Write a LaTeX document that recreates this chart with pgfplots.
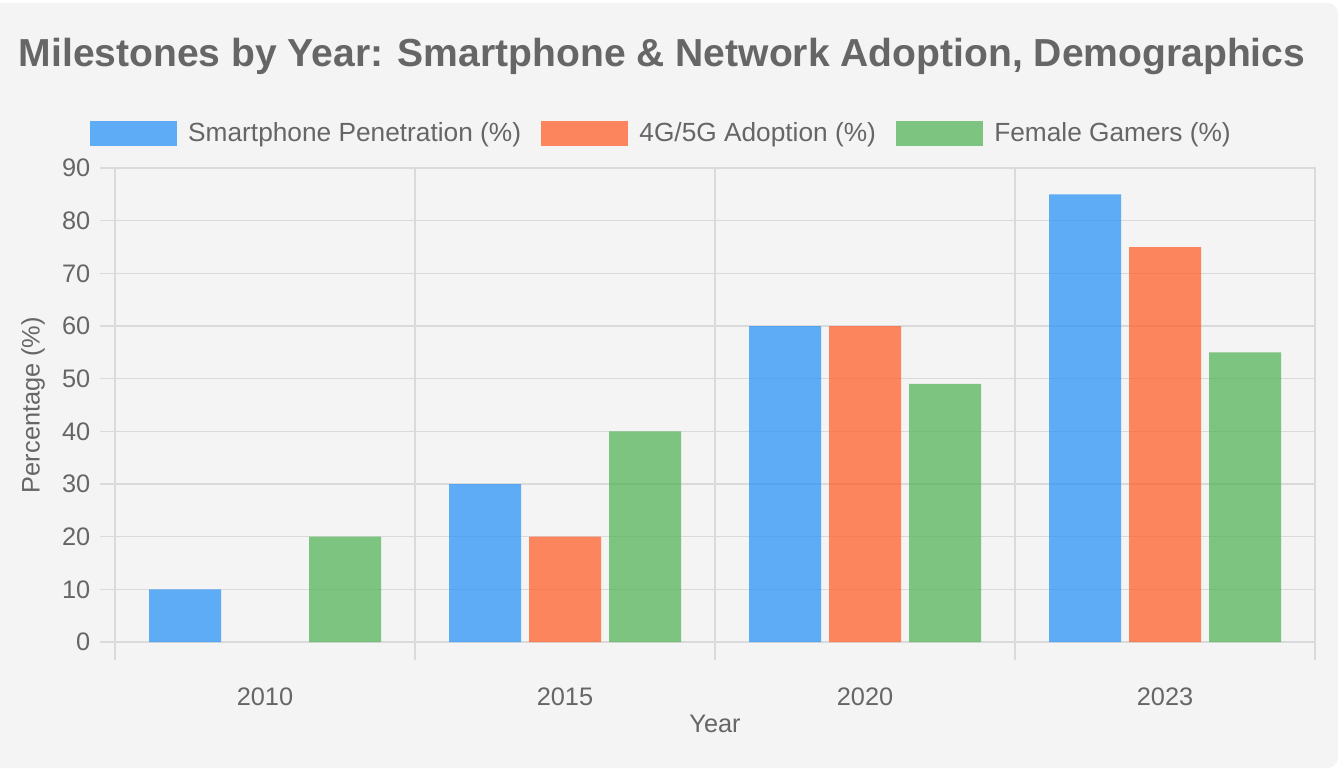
\documentclass[border=0pt]{standalone}
\usepackage{pgfplots}
\pgfplotsset{compat=1.18}
\usepackage{fontspec}
\setmainfont{Liberation Sans}
\definecolor{bgc}{RGB}{244,244,244}
\definecolor{textgray}{RGB}{102,102,102}
\definecolor{gridc}{RGB}{218,218,218}
\definecolor{sblue}{RGB}{44,148,248}
\definecolor{sorange}{RGB}{255,96,44}
\definecolor{sgreen}{RGB}{85,180,89}
\begin{document}
\begin{tikzpicture}
\useasboundingbox (0,0) rectangle (1008pt,576pt);
\fill[white] (0,0) rectangle (1008pt,576pt);
\fill[bgc, rounded corners=8pt] (-20pt,0pt) rectangle (1003.5pt,573.75pt);
\node[anchor=base, text=textgray, font=\fontsize{29.3}{34}\selectfont\bfseries] at (496.5pt,525.75pt) {Milestones by Year: Smartphone \& Network Adoption, Demographics};
\begin{axis}[
  at={(86.25pt,94.5pt)}, anchor=south west,
  width=900pt, height=355.5pt, scale only axis,
  xmin=-0.5, xmax=3.5, ymin=0, ymax=90,
  ybar=6pt, bar width=54pt,
  xtick={0,1,2,3}, xticklabels={2010,2015,2020,2023},
  major x tick style={draw=none},
  minor xtick={-0.5,0.5,1.5,2.5,3.5},
  xminorgrids, ymajorgrids,
  ytick={0,10,...,90},
  tick align=outside,
  tick pos=left,
  minor tick length=13.5pt,
  major tick length=11.25pt,
  axis line style={draw=gridc, line width=0.9pt},
  grid style={gridc, line width=0.9pt},
  minor grid style={gridc, line width=0.9pt},
  every tick/.style={gridc, line width=0.9pt},
  /pgf/number format/assume math mode=true,
  ticklabel style={font=\fontsize{19}{23}\selectfont, text=textgray},
  xticklabel style={anchor=base, yshift=-36pt},
  yticklabel style={anchor=east, xshift=-3.75pt},
  xlabel={Year},
  ylabel={Percentage (\%)},
  every axis x label/.style={at={(axis description cs:0.5,-0.19)}, anchor=base,
    font=\fontsize{19}{23}\selectfont, text=textgray},
  every axis y label/.style={at={(axis description cs:-0.0683,0.5)}, anchor=center, rotate=90,
    font=\fontsize{19}{23}\selectfont, text=textgray},
  legend columns=3,
  legend style={at={(axis description cs:0.4554,1.0738)}, anchor=center, draw=none, fill=none,
    font=\fontsize{19.7}{23}\selectfont, text=textgray,
    /tikz/every odd column/.append style={column sep=6.75pt},
    /tikz/every even column/.append style={column sep=12.75pt}},
  legend image code/.code={\fill[#1] (0pt,-9.375pt) rectangle (65.25pt,9.375pt);},
]
\addplot[fill=sblue, fill opacity=0.75, draw=none] coordinates {(0,10) (1,30) (2,60) (3,85)};
\addplot[fill=sorange, fill opacity=0.75, draw=none] coordinates {(1,20) (2,60) (3,75)};
\addplot[fill=sgreen, fill opacity=0.75, draw=none] coordinates {(0,20) (1,40) (2,49) (3,55)};
\legend{Smartphone Penetration (\%), 4G/5G Adoption (\%), Female Gamers (\%)}
\end{axis}
\end{tikzpicture}
\end{document}
